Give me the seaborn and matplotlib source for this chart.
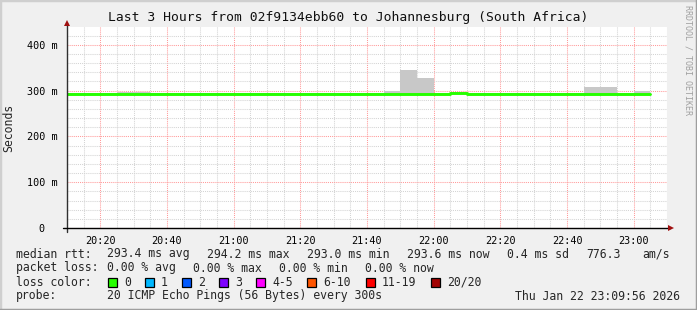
import matplotlib
matplotlib.use("Agg")
import matplotlib.pyplot as plt
import matplotlib.dates as mdates
from matplotlib.ticker import MultipleLocator, FixedLocator
from matplotlib.lines import Line2D
from matplotlib.patches import Rectangle
import numpy as np
import pandas as pd
import seaborn as sns

# ---------------- data ----------------
bin_starts = ["20:10", "20:15", "20:20", "20:25", "20:30", "20:35", "20:40", "20:45",
              "20:50", "20:55", "21:00", "21:05", "21:10", "21:15", "21:20", "21:25",
              "21:30", "21:35", "21:40", "21:45", "21:50", "21:55", "22:00", "22:05",
              "22:10", "22:15", "22:20", "22:25", "22:30", "22:35", "22:40", "22:45",
              "22:50", "22:55", "23:00"]
median_rtt = [293.4, 293.3, 293.5, 293.4, 293.6, 293.3, 293.2, 293.4, 293.5, 293.3,
              293.4, 293.2, 293.0, 293.3, 293.4, 293.5, 293.3, 293.4, 293.2, 293.5,
              293.6, 293.4, 293.3, 294.2, 293.5, 293.4, 293.3, 293.2, 293.4, 293.3,
              293.5, 293.6, 293.5, 293.4, 293.6]
smoke_min = [292.6, 292.5, 292.7, 292.6, 292.8, 292.5, 292.4, 292.6, 292.7, 292.5,
             292.6, 292.4, 292.2, 292.5, 292.6, 292.7, 292.5, 292.6, 292.4, 292.7,
             292.8, 292.6, 292.5, 293.4, 292.7, 292.6, 292.5, 292.4, 292.6, 292.5,
             292.7, 292.8, 292.7, 292.6, 292.8]
smoke_max = [295.0, 295.0, 295.0, 297.5, 297.5, 295.0, 295.0, 295.0, 295.0, 295.0,
             295.0, 295.0, 295.0, 295.0, 295.0, 295.0, 295.0, 295.0, 295.0, 299.0,
             345.0, 328.0, 295.0, 296.5, 295.0, 295.0, 295.0, 295.0, 295.0, 295.0,
             295.0, 309.0, 309.0, 295.0, 299.0]
period_start = "20:10"
period_end = "23:10"
data_end = "23:05"
yticks_ms = [0, 100, 200, 300, 400]
ytick_labels = ["0  ", "100 m", "200 m", "300 m", "400 m"]

loss_labels = ["0", "1", "2", "3", "4-5", "6-10", "11-19", "20/20"]
loss_colors = ["#26ff00", "#00b8ff", "#0059ff", "#7e00ff", "#ff00ff", "#ff5500", "#ff0000", "#a10000"]

title = "Last 3 Hours from 02f9134ebb60 to Johannesburg (South Africa)"
stats_rtt = ["median rtt:", "293.4 ms avg", "294.2 ms max", "293.0 ms min", "293.6 ms now",
             "0.4 ms sd", "776.3", "am/s"]
stats_loss = ["packet loss:", "0.00 % avg", "0.00 % max", "0.00 % min", "0.00 % now"]
probe_text = ["probe:", "20 ICMP Echo Pings (56 Bytes) every 300s"]
timestamp = "Thu Jan 22 23:09:56 2026"

# ---------------- figure ----------------
W, H = 697, 310
sns.set_theme(style="white")
plt.rcParams["font.family"] = ["DejaVu Sans Mono", "DejaVu Sans"]

day = "2026-01-22 "
t = pd.to_datetime([day + s for s in bin_starts])
t_step = list(t) + [pd.Timestamp(day + data_end)]
lo_step = list(smoke_min) + [smoke_min[-1]]
hi_step = list(smoke_max) + [smoke_max[-1]]
med_step = list(median_rtt) + [median_rtt[-1]]
df_step = pd.DataFrame({"time": t_step, "median": med_step})

fig = plt.figure(figsize=(W / 100, H / 100), dpi=100, facecolor="#f0f0f0")
L, R, T, B = 67, 667, 27, 228
ax = fig.add_axes([L / W, 1 - B / H, (R - L) / W, (B - T) / H])
ax.set_facecolor("white")

# smoke
ax.fill_between(t_step, lo_step, hi_step, step="post", color="#c8c8c8", lw=0, zorder=3)
# median line
sns.lineplot(data=df_step, x="time", y="median", ax=ax, drawstyle="steps-post",
             color="#26ff00", lw=2.1, zorder=4)

ax.set_xlim(pd.Timestamp(day + period_start), pd.Timestamp(day + period_end))
ax.set_ylim(0, 439)

ax.xaxis.set_major_locator(mdates.MinuteLocator(byminute=[0, 20, 40]))
ax.xaxis.set_minor_locator(mdates.MinuteLocator(byminute=range(0, 60, 5)))
ax.xaxis.set_major_formatter(mdates.DateFormatter("%H:%M"))
ax.yaxis.set_major_locator(FixedLocator(yticks_ms))
ax.set_yticklabels(ytick_labels)
ax.yaxis.set_minor_locator(MultipleLocator(20))

dot = (0, (1, 1))
ax.grid(which="minor", axis="both", color="#d4d4d4", ls=dot, lw=0.75, zorder=1)
ax.grid(which="major", axis="both", color="#ff9a9a", ls=dot, lw=0.75, zorder=2)
ax.set_axisbelow(True)

ax.tick_params(which="both", length=0)
ax.tick_params(axis="x", pad=6, labelsize=7.3, colors="black")
ax.tick_params(axis="y", pad=7, labelsize=7.3, colors="black")
ax.set_xlabel("")
ax.set_ylabel("Seconds", fontsize=8.3, labelpad=8)
for s in ax.spines.values():
    s.set_visible(False)

# axis lines with arrows
pw, ph = R - L, B - T
ax.plot([0, 0], [-4 / ph, 1 + 4 / ph], transform=ax.transAxes, color="#303030",
        lw=1, clip_on=False, zorder=6)
ax.plot([-4 / pw, 1 + 3 / pw], [0, 0], transform=ax.transAxes, color="black",
        lw=1, clip_on=False, zorder=6)
ax.plot([0], [1 + 3.5 / ph], marker="^", ms=5, color="#a01010", transform=ax.transAxes,
        clip_on=False, zorder=7, mew=0)
ax.plot([1 + 3.5 / pw], [0], marker=">", ms=5, color="#a01010", transform=ax.transAxes,
        clip_on=False, zorder=7, mew=0)

def fx(x):
    return x / W

def fy(y):
    return 1 - y / H

fig.text(fx(348), fy(18), title, ha="center", va="center", fontsize=9.4, color="#101010")
fig.text(fx(688), fy(5), "RRDTOOL / TOBI OETIKER", rotation=270, ha="center", va="top",
         fontsize=6.0, color="#a0a0a0")

fs = 8.3
row_y = [254, 268, 282, 296]
rtt_x = [16, 107, 207, 307, 407, 507, 586, 642]
for x, s in zip(rtt_x, stats_rtt):
    fig.text(fx(x), fy(row_y[0]), s, ha="left", va="center", fontsize=fs)
loss_x = [16, 107, 193, 279, 365]
for x, s in zip(loss_x, stats_loss):
    fig.text(fx(x), fy(row_y[1]), s, ha="left", va="center", fontsize=fs)
fig.text(fx(16), fy(row_y[2]), "loss color:", ha="left", va="center", fontsize=fs)
box_x = [108, 145, 182, 219, 256, 307, 366, 431]
for x, lab, c in zip(box_x, loss_labels, loss_colors):
    fig.patches.append(Rectangle((fx(x), fy(row_y[2] + 4.5)), 9 / W, 9 / H,
                                 transform=fig.transFigure, facecolor=c,
                                 edgecolor="black", lw=0.9))
    fig.text(fx(x + 16), fy(row_y[2]), lab, ha="left", va="center", fontsize=fs)
fig.text(fx(16), fy(row_y[3]), probe_text[0], ha="left", va="center", fontsize=fs)
fig.text(fx(107), fy(row_y[3]), probe_text[1], ha="left", va="center", fontsize=fs)
fig.text(fx(680), fy(row_y[3]), timestamp, ha="right", va="center", fontsize=fs)

# frame
fig.lines.append(Line2D([0, 0, 1], [0, 1, 1], transform=fig.transFigure,
                        color="#cfcfcf", lw=2.5))
fig.lines.append(Line2D([0, 1, 1], [0, 0, 1], transform=fig.transFigure,
                        color="#9e9e9e", lw=2.5))

fig.savefig("out.png", dpi=100, facecolor=fig.get_facecolor())
